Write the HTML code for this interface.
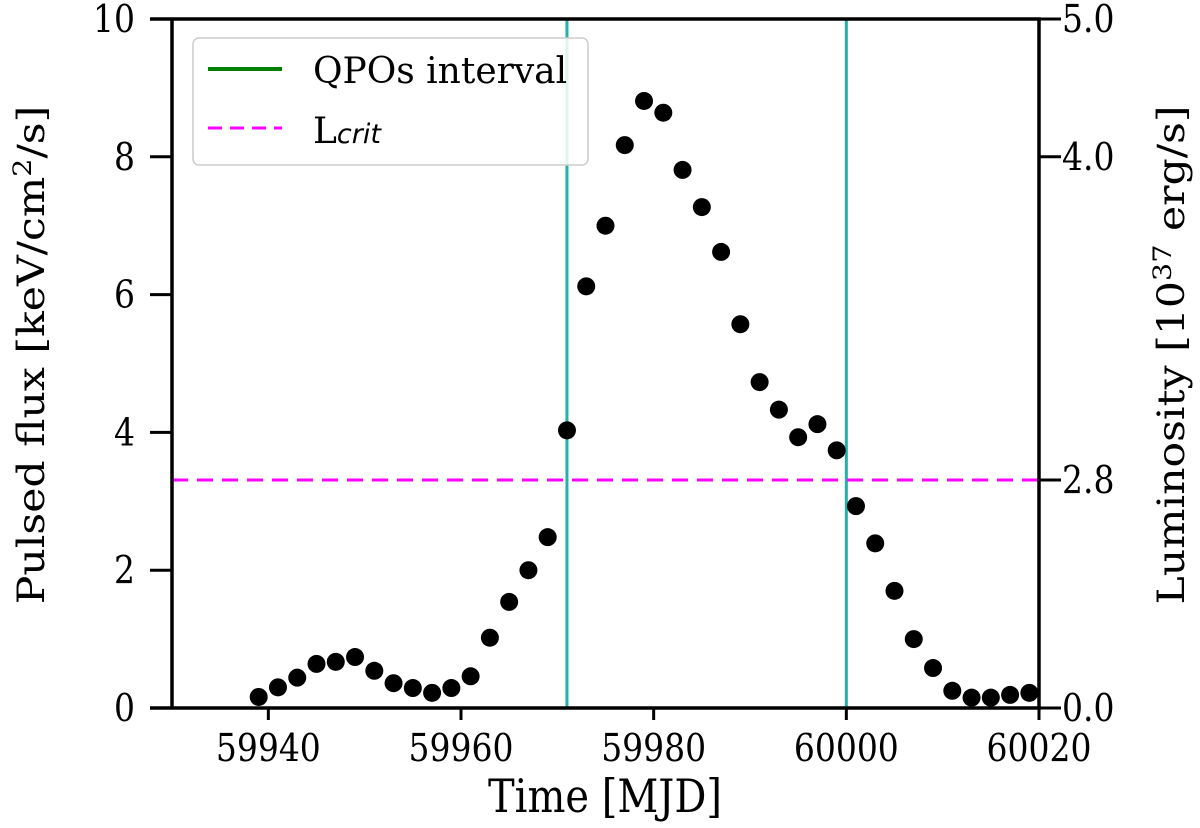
<!DOCTYPE html>
<html><head><meta charset="utf-8"><style>
html,body{margin:0;padding:0;background:#fff;}
svg{display:block;font-family:"DejaVu Serif","Liberation Serif",serif;}
</style></head><body>
<svg id="chart" width="1200" height="828" viewBox="0 0 1200 828">
<g id="plot"></g>
</svg>
<script>
const mjd = [59939,59941,59943,59945,59947,59949,59951,59953,59955,59957,59959,59961,59963,59965,59967,59969,59971,59973,59975,59977,59979,59981,59983,59985,59987,59989,59991,59993,59995,59997,59999,60001,60003,60005,60007,60009,60011,60013,60015,60017,60019];
const flux = [0.16,0.30,0.44,0.64,0.67,0.74,0.54,0.36,0.29,0.22,0.29,0.46,1.02,1.54,2.00,2.48,4.03,6.12,7.00,8.17,8.81,8.64,7.81,7.27,6.62,5.57,4.73,4.33,3.93,4.12,3.74,2.93,2.39,1.70,1.00,0.58,0.25,0.15,0.15,0.19,0.22];
const xTicks = [59940,59960,59980,60000,60020];
const yTicks = [0,2,4,6,8,10];
const lumTickLabels = ["0.0","2.8","4.0","5.0"];
const lumTickFlux = [0,3.31,8,10];
const qpoBounds = [59971,60000];
const lcritFlux = 3.31;

const NS="http://www.w3.org/2000/svg";
const L=172,R=1039,T=19,B=708;
const X0=59930,X1=60020,Y0=0,Y1=10;
const sx=v=>L+(v-X0)/(X1-X0)*(R-L);
const sy=v=>B-(v-Y0)/(Y1-Y0)*(B-T);
const g=document.getElementById('plot');
function mk(tag,attrs,parent){const e=document.createElementNS(NS,tag);for(const k in attrs)e.setAttribute(k,attrs[k]);(parent||g).appendChild(e);return e;}
const ST=1.15;

qpoBounds.forEach((v,i)=>{
  const l=mk('line',{x1:sx(v),x2:sx(v),y1:T,y2:B,stroke:'#20b2aa','stroke-width':3});
  
  
});
const lc=mk('line',{x1:L,x2:R,y1:sy(lcritFlux),y2:sy(lcritFlux),stroke:'#ff00ff','stroke-width':3,'stroke-dasharray':'16,9'});


mjd.forEach((m,i)=>{
  const c=mk('circle',{cx:sx(m),cy:sy(flux[i]),r:9,fill:'#000'});
  
  
});
const sp=mk('path',{d:`M${L},${T}V${B}M${R},${T}V${B}M${L-22},${B}H${R+2}M${L-22},${T}H${R+2}`,stroke:'#000','stroke-width':3.5,fill:'none'});


xTicks.forEach(v=>{
  const t=mk('line',{x1:sx(v),x2:sx(v),y1:B,y2:B+12,stroke:'#000','stroke-width':3});
  
  
  const tx=mk('text',{transform:`translate(${sx(v)},${B+53}) scale(1,${ST})`,'text-anchor':'middle','font-size':33});
  tx.textContent=v;
  
  
});
yTicks.forEach(v=>{
  const t=mk('line',{x1:L-22,x2:L,y1:sy(v),y2:sy(v),stroke:'#000','stroke-width':3});
  
  
  const tx=mk('text',{transform:`translate(${L-37},${sy(v)+13}) scale(1,${ST})`,'text-anchor':'end','font-size':33});
  tx.textContent=v;
  
  
});
lumTickFlux.forEach((v,i)=>{
  const t=mk('line',{x1:R,x2:R+22,y1:sy(v),y2:sy(v),stroke:'#000','stroke-width':3});
  
  
  const tx=mk('text',{transform:`translate(${R+23},${sy(v)+13}) scale(1,${ST})`,'text-anchor':'start','font-size':33});
  tx.textContent=lumTickLabels[i];
  
  
});
</script>
<script>
(function(){
const s=document.getElementById('chart');
s.insertAdjacentHTML('beforeend',`
<text transform="translate(605,812) scale(1,1.15)" text-anchor="middle" font-size="40">Time [MJD]</text>
<text transform="translate(44,355) scale(1,1.15) rotate(-90)" text-anchor="middle" font-size="37">Pulsed flux [keV/cm<tspan dy="-13" font-size="25">2</tspan><tspan dy="13">/s]</tspan></text>
<text transform="translate(1184,355) scale(1,1.15) rotate(-90)" text-anchor="middle" font-size="37">Luminosity [10<tspan dy="-13" font-size="25">37</tspan><tspan dy="13"> erg/s]</tspan></text>
<g>
<rect x="193" y="38" width="395" height="127" rx="6" fill="#fff" fill-opacity="0.85" stroke="#ccc" stroke-width="1.5"/>
<line x1="208" y1="69" x2="282" y2="69" stroke="#008000" stroke-width="4"/>
<text x="313" y="83" font-size="36">QPOs interval</text>
<line x1="208" y1="128" x2="282" y2="128" stroke="#ff00ff" stroke-width="3" stroke-dasharray="14,8"/>
<text x="313" y="143" font-size="36">L<tspan font-family="DejaVu Sans, sans-serif" font-style="italic" font-size="27">crit</tspan></text>
</g>`);
})();
</script>
</body></html>
